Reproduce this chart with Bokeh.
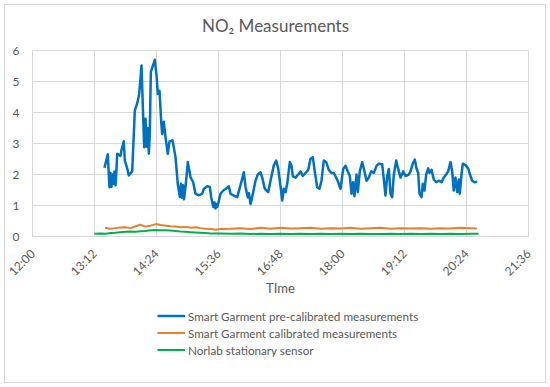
import numpy as np
from bokeh.plotting import figure
from bokeh.layouts import column
from bokeh.models import Range1d, FixedTicker, Legend, LegendItem, Label
from bokeh.embed import file_html
from bokeh.resources import INLINE

# x values: minutes after 12:00
tick_minutes = [0, 72, 144, 216, 288, 360, 432, 504, 576]
tick_labels = ["12:00", "13:12", "14:24", "15:36", "16:48", "18:00", "19:12", "20:24", "21:36"]
y_ticks = [0, 1, 2, 3, 4, 5, 6]

title_text = "NO\u2082 Measurements"
x_title = "TIme"
series_names = ["Smart Garment pre-calibrated measurements",
                "Smart Garment calibrated measurements",
                "Norlab stationary sensor"]
series_colors = ["#0070C0", "#ED7D31", "#00B050"]

pre_t = [83.6, 87.4, 89.4, 90.6, 91.7, 92.9, 94.1, 95.2, 96.4, 97.5, 98.4, 102.2, 103.4, 106.0,
         107.2, 110.0, 111.8, 115.8, 118.8, 121.6, 123.9, 126.6, 128.6, 129.7, 131.2, 132.4,
         133.9, 135.1, 136.2, 137.4, 142.0, 144.0, 145.5, 147.5, 149.5, 150.6, 152.5, 154.5,
         157.1, 159.1, 162.6, 166.1, 168.7, 171.1, 172.5, 173.6, 174.8, 175.9, 177.7, 180.4,
         183.5, 186.6, 189.3, 193.1, 197.1, 198.9, 202.9, 205.9, 207.5, 209.9, 211.4, 212.5,
         213.7, 214.5, 216.0, 218.3, 222.2, 225.3, 228.0, 229.9, 233.8, 237.7, 241.5, 245.4,
         247.4, 250.0, 251.4, 253.2, 255.1, 259.0, 261.6, 264.8, 266.8, 269.8, 273.7, 276.4,
         280.2, 283.0, 285.3, 288.0, 290.0, 291.8, 293.8, 295.8, 298.8, 300.8, 302.3, 305.4,
         308.6, 311.2, 313.9, 317.0, 320.2, 322.8, 325.5, 327.8, 330.6, 333.3, 335.6, 338.3,
         341.1, 344.1, 347.2, 349.9, 353.8, 357.7, 360.8, 363.5, 366.2, 368.5, 370.5, 372.4,
         373.9, 376.3, 377.8, 380.1, 382.9, 384.7, 387.9, 390.5, 393.3, 396.4, 399.5, 402.2,
         406.1, 408.0, 409.9, 411.9, 413.8, 415.7, 417.7, 419.6, 422.4, 424.7, 427.4, 430.5,
         433.2, 437.0, 439.0, 441.6, 444.0, 445.9, 447.9, 449.4, 451.8, 453.2, 455.2, 457.2,
         459.5, 461.0, 463.4, 466.0, 468.8, 471.8, 475.0, 477.6, 480.4, 482.7, 485.4, 487.4,
         489.2, 491.2, 493.2, 495.1, 496.2, 498.2, 499.7, 502.8, 506.0, 508.6, 510.6, 513.3,
         516.4]
pre_v = [2.22, 2.65, 1.59, 2.05, 1.60, 2.00, 1.70, 2.10, 1.65, 2.15, 2.67, 2.60, 2.80, 3.07,
         2.45, 2.20, 1.97, 2.10, 4.06, 4.30, 4.60, 5.52, 3.80, 2.88, 3.80, 2.90,
         3.50, 2.67, 3.30, 5.30, 5.70, 5.20, 4.60, 4.70, 3.69, 3.30, 3.70, 3.20,
         2.67, 3.07, 3.10, 2.56, 1.70, 1.27, 1.70, 1.25, 1.65, 1.20, 1.60, 2.40,
         1.91, 1.75, 1.38, 1.33, 1.38, 1.54, 1.62, 1.60, 1.27, 0.95, 1.10, 0.90,
         1.05, 0.95, 1.10, 1.38, 1.50, 1.55, 1.62, 1.38, 1.32, 1.27, 1.65, 2.07,
         1.60, 1.27, 1.40, 1.05, 1.27, 1.80, 2.00, 2.07, 1.90, 1.54, 1.43, 1.80,
         2.29, 2.45, 2.20, 1.63, 1.16, 1.54, 1.43, 1.70, 2.40, 2.28, 1.95, 1.90,
         2.00, 2.10, 1.95, 2.05, 2.15, 2.50, 2.56, 2.10, 1.59, 1.54, 1.80, 2.45,
         2.40, 2.15, 2.05, 2.05, 1.84, 1.54, 2.18, 2.28, 2.10, 1.95, 1.38, 1.75,
         1.30, 2.00, 1.43, 2.10, 2.40, 2.20, 1.80, 1.90, 2.10, 2.05, 2.28, 2.35,
         2.33, 1.84, 1.32, 1.95, 2.18, 1.38, 1.27, 2.00, 2.45, 2.18, 1.90, 2.10,
         1.95, 2.00, 2.10, 2.35, 2.48, 2.20, 2.05, 1.38, 1.27, 1.70, 1.48, 2.00,
         2.20, 2.05, 2.15, 1.84, 1.75, 1.80, 1.75, 1.90, 2.00, 2.10, 2.40, 2.10,
         1.48, 1.90, 1.43, 1.84, 1.38, 2.00, 2.35, 2.30, 2.20, 1.95, 1.80, 1.75,
         1.77]

cal_t = [84, 90, 96, 102, 108, 114, 120, 125, 131, 137, 143, 149, 155, 160, 166, 172, 178,
         184, 190, 195, 201, 207, 213, 218, 230, 242, 253, 265, 276, 288, 300, 311, 323, 335,
         346, 358, 369, 381, 393, 404, 416, 427, 439, 451, 462, 474, 485, 497, 509, 516]
cal_v = [0.28, 0.25, 0.27, 0.29, 0.30, 0.27, 0.33, 0.38, 0.32, 0.35, 0.40, 0.37, 0.35, 0.33,
         0.32, 0.30, 0.31, 0.28, 0.30, 0.27, 0.25, 0.24, 0.22, 0.24, 0.25, 0.27, 0.24, 0.28,
         0.25, 0.28, 0.26, 0.27, 0.28, 0.25, 0.27, 0.26, 0.28, 0.25, 0.27, 0.28, 0.25, 0.27,
         0.26, 0.27, 0.25, 0.27, 0.26, 0.28, 0.27, 0.26]

nor_t = [72, 79, 85, 91, 96, 102, 108, 114, 120, 125, 131, 137, 143, 149, 155, 160, 166, 172,
         178, 184, 189, 195, 201, 207, 218, 230, 242, 253, 265, 276, 288, 300, 311, 323, 335,
         346, 358, 369, 381, 393, 404, 416, 427, 439, 451, 462, 474, 485, 497, 509, 518]
nor_v = [0.09, 0.10, 0.09, 0.11, 0.12, 0.14, 0.15, 0.16, 0.15, 0.17, 0.18, 0.20, 0.21, 0.20,
         0.20, 0.19, 0.18, 0.16, 0.15, 0.14, 0.13, 0.12, 0.11, 0.10, 0.10, 0.09, 0.10, 0.08,
         0.09, 0.08, 0.09, 0.08, 0.09, 0.08, 0.09, 0.08, 0.09, 0.08, 0.09, 0.08, 0.08, 0.09,
         0.08, 0.09, 0.08, 0.09, 0.08, 0.09, 0.08, 0.09, 0.09]

FONT = "Lato"
GREY = "#595959"
GRID = "#d9d9d9"


def strip(height):
    f = figure(width=540, height=height, output_backend="svg", toolbar_location=None,
               x_range=Range1d(tick_minutes[0], tick_minutes[-1]), y_range=Range1d(0, 1),
               min_border_left=0, min_border_right=0, min_border_top=0, min_border_bottom=0,
               background_fill_color="white", border_fill_color="white")
    f.axis.visible = False
    f.grid.visible = False
    f.outline_line_color = None
    return f


# title strip (its frame is aligned with the chart's frame by the column layout)
t = strip(37)
t.add_layout(Label(x=(tick_minutes[0] + tick_minutes[-1]) / 2, y=0.46, text=title_text,
                   text_align="center", text_baseline="middle", x_offset=-5,
                   text_font=FONT, text_font_size="17px", text_color=GREY))

p = figure(width=540, height=263, output_backend="svg", toolbar_location=None,
           x_range=Range1d(tick_minutes[0], tick_minutes[-1]),
           y_range=Range1d(y_ticks[0], y_ticks[-1]),
           min_border_left=27, min_border_right=17, min_border_top=8, min_border_bottom=69,
           background_fill_color="white", border_fill_color="white")

p.xaxis.ticker = FixedTicker(ticks=tick_minutes)
p.xaxis.major_label_overrides = {tm: s for tm, s in zip(tick_minutes, tick_labels)}
p.xaxis.major_label_orientation = np.pi / 4
p.yaxis.ticker = FixedTicker(ticks=y_ticks)
p.xgrid.ticker = FixedTicker(ticks=tick_minutes)
p.ygrid.ticker = FixedTicker(ticks=y_ticks)
p.grid.grid_line_color = GRID
p.grid.grid_line_width = 1
p.outline_line_color = GRID

for ax in (p.xaxis, p.yaxis):
    ax.axis_line_color = None
    ax.major_tick_line_color = None
    ax.minor_tick_line_color = None
    ax.major_label_text_font = FONT
    ax.major_label_text_font_size = "12px"
    ax.major_label_text_color = GREY
p.yaxis.major_label_standoff = 7
p.xaxis.major_label_standoff = 9
p.xaxis.axis_label = x_title
p.xaxis.axis_label_text_font = FONT
p.xaxis.axis_label_text_font_size = "13px"
p.xaxis.axis_label_text_font_style = "normal"
p.xaxis.axis_label_text_color = GREY
p.xaxis.axis_label_standoff = -7

p.line(pre_t, pre_v, line_color=series_colors[0], line_width=2.5, line_join="round")
p.line(cal_t, cal_v, line_color=series_colors[1], line_width=2, line_join="round")
p.line(nor_t, nor_v, line_color=series_colors[2], line_width=2, line_join="round")

# legend strip below the chart
q = strip(77)
items = []
for name, col, w in zip(series_names, series_colors, [2.5, 2, 2]):
    r = q.line([-5, -4], [-5, -5], line_color=col, line_width=w)
    items.append(LegendItem(label=name, renderers=[r]))
legend = Legend(items=items, location=(125, 24), orientation="vertical",
                padding=0, margin=0, spacing=0, border_line_color=None,
                background_fill_alpha=0, glyph_width=28, glyph_height=17,
                label_height=17, label_standoff=3,
                label_text_font=FONT, label_text_font_size="11.7px", label_text_color=GREY)
q.add_layout(legend, "center")

layout = column(t, p, q, spacing=0, margin=4)
layout.styles = {"border": "1px solid #d9d9d9"}

open("out.html", "w").write(file_html(layout, INLINE))
